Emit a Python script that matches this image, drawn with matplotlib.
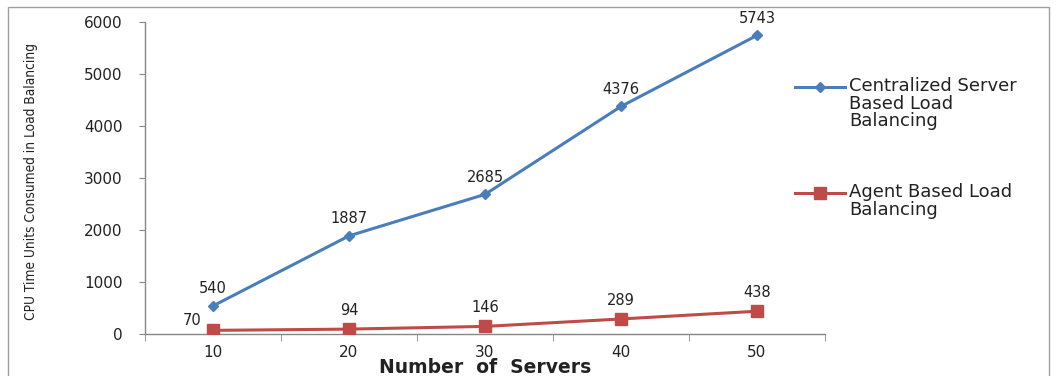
import matplotlib.pyplot as plt
from matplotlib.lines import Line2D
from matplotlib.patches import Rectangle
from matplotlib import font_manager

servers = ["10", "20", "30", "40", "50"]
centralized = [540, 1887, 2685, 4376, 5743]
agent = [70, 94, 146, 289, 438]
series_names = ["Centralized Server\nBased Load\nBalancing", "Agent Based Load\nBalancing"]

blue = "#4a7ebb"
red = "#be4b48"
axis_gray = "#868686"
txt = "#222222"

names = {f.name for f in font_manager.fontManager.ttflist}
narrow = "Liberation Sans Narrow" if "Liberation Sans Narrow" in names else "DejaVu Sans"

fig = plt.figure(figsize=(10.56, 3.76), dpi=100)
ax = fig.add_axes([145 / 1056, 1 - 334 / 376, 680 / 1056, 312 / 376])

x = list(range(len(servers)))
ax.plot(x, centralized, color=blue, lw=2.2, marker="D", ms=5, zorder=3)
ax.plot(x, agent, color=red, lw=2.2, marker="s", ms=9, zorder=3)

for i, v in enumerate(centralized):
    ax.annotate(str(v), (i, v), xytext=(0, 7), textcoords="offset points",
                ha="center", va="bottom", fontsize=10.5, color=txt)
for i, v in enumerate(agent):
    if i == 0:
        ax.annotate(str(v), (i, v), xytext=(-8, 2), textcoords="offset points",
                    ha="right", va="bottom", fontsize=10.5, color=txt)
    else:
        ax.annotate(str(v), (i, v), xytext=(0, 8), textcoords="offset points",
                    ha="center", va="bottom", fontsize=10.5, color=txt)

ax.set_xlim(-0.5, len(servers) - 0.5)
ax.set_ylim(0, 6000)
ax.set_yticks(range(0, 6001, 1000))
ax.set_xticks(x)
ax.set_xticklabels(servers)
ax.set_xticks([i - 0.5 for i in range(len(servers) + 1)], minor=True)
ax.tick_params(axis="x", which="major", length=0, pad=8, labelsize=11, labelcolor=txt)
ax.tick_params(axis="x", which="minor", length=5, color=axis_gray, direction="out")
ax.tick_params(axis="y", length=4, color=axis_gray, labelsize=11, pad=12, labelcolor=txt)

for side in ["top", "right"]:
    ax.spines[side].set_visible(False)
for side in ["left", "bottom"]:
    ax.spines[side].set_color(axis_gray)
    ax.spines[side].set_linewidth(1)

ax.set_xlabel("Number  of  Servers", fontsize=13.5, fontweight="bold", labelpad=0, color=txt)
ax.xaxis.set_label_coords(0.5, -0.077)
ax.set_ylabel("CPU Time Units Consumed in Load Balancing", fontsize=9.8,
              family=[narrow, "DejaVu Sans"], fontstretch="condensed",
              fontweight="medium", color=txt)
ax.yaxis.set_label_coords(-(145 - 38) / 680, 0.49)

# legend drawn by hand so the handle sits on the first text line
legend_rows = [(1 - 87 / 376, blue, "D", 5), (1 - 193 / 376, red, "s", 9)]
for (yy, col, mk, ms), name in zip(legend_rows, series_names):
    fig.add_artist(Line2D([795 / 1056, 845 / 1056], [yy, yy], color=col, lw=2.2))
    fig.add_artist(Line2D([820 / 1056], [yy], color=col, marker=mk, ms=ms))
    fig.text(849 / 1056, yy + 10 / 376, name, fontsize=13, va="top", ha="left",
             color=txt, linespacing=0.98)

fig.add_artist(Rectangle((8 / 1056, -0.05), 1041 / 1056, 1.05 - 7 / 376,
                         fill=False, edgecolor="#a0a0a0", lw=1,
                         transform=fig.transFigure))

fig.savefig("out.png", dpi=100)
